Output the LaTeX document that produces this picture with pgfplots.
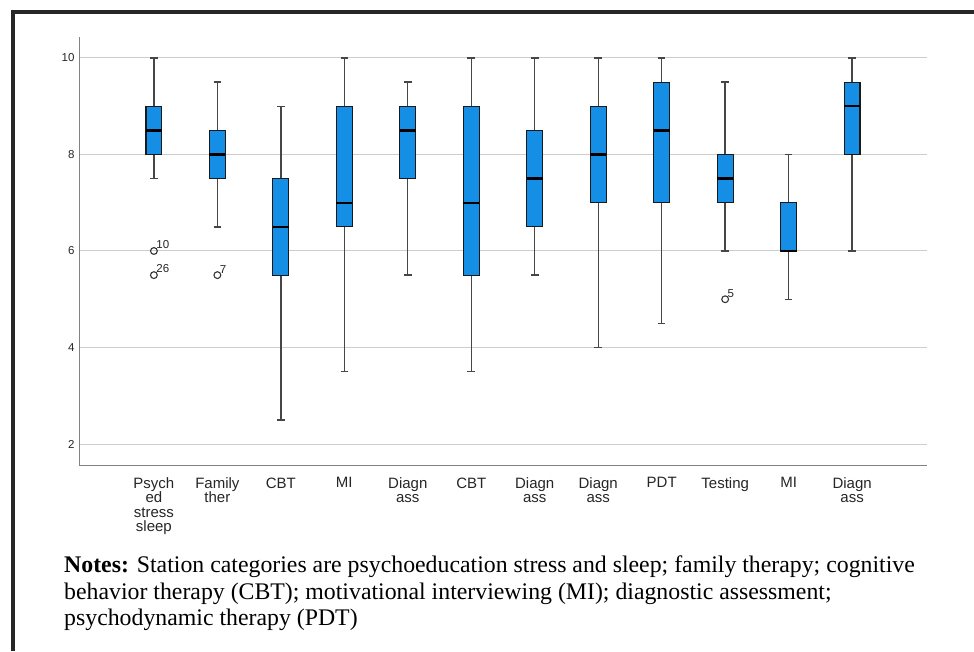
\documentclass[border=0pt]{standalone}
\usepackage{fontspec}
\setmainfont{Liberation Serif}
\setsansfont{Liberation Sans}
\usepackage{pgfplots}
\pgfplotsset{compat=1.18}
\usepgfplotslibrary{statistics}
\definecolor{spssblue}{RGB}{20,143,229}
\definecolor{whisk}{RGB}{70,70,70}
\definecolor{gridgray}{RGB}{205,205,205}
\definecolor{axgray}{RGB}{130,130,130}
\begin{document}
\begin{tikzpicture}[x=1pt,y=1pt]
\useasboundingbox (0,0) rectangle (974,651);
\fill[white] (0,0) rectangle (974,651);
\draw[black!85, line width=4pt] (13,0) -- (13,639) -- (974,639);
\begin{axis}[
  at={(79pt,186pt)}, anchor=south west,
  scale only axis, width=848pt, height=428pt,
  xmin=-0.18, xmax=13.18, ymin=1.565, ymax=10.435,
  axis x line*=bottom, axis y line*=left,
  axis line style={draw=axgray, line width=1pt, -},
  major tick length=0pt,
  ytick={2,4,6,8,10},
  ymajorgrids, major grid style={draw=gridgray, line width=1pt},
  xtick={1,2,3,4,5,6,7,8,9,10,11,12},
  xticklabels={{Psych\\ed\\stress\\sleep},{Family\\ther},CBT,MI,{Diagn\\ass},CBT,{Diagn\\ass},{Diagn\\ass},PDT,Testing,MI,{Diagn\\ass}},
  xticklabel style={font=\sffamily\fontsize{15}{14.5}\selectfont, align=center, anchor=north, yshift=-9pt, text=black!85},
  yticklabel style={font=\sffamily\fontsize{11.5}{12}\selectfont, text=black!85, xshift=-1pt},
  /pgf/number format/assume math mode=true,
  boxplot/draw direction=y,
  boxplot/box extend=0.25,
  boxplot/whisker extend=0.12,
  boxplot/every box/.style={draw=black!90, fill=spssblue, line width=1.1pt},
  boxplot/every whisker/.style={draw=whisk, line width=1.4pt},
  boxplot/every median/.style={draw=black, line width=2.4pt},
]
\addplot[boxplot prepared={draw position=1, lower whisker=7.5, lower quartile=8, median=8.5, upper quartile=9, upper whisker=10}] coordinates {};
\addplot[boxplot prepared={draw position=2, lower whisker=6.5, lower quartile=7.5, median=8, upper quartile=8.5, upper whisker=9.5}] coordinates {};
\addplot[boxplot prepared={draw position=3, lower whisker=2.5, lower quartile=5.5, median=6.5, upper quartile=7.5, upper whisker=9}] coordinates {};
\addplot[boxplot prepared={draw position=4, lower whisker=3.5, lower quartile=6.5, median=7, upper quartile=9, upper whisker=10}] coordinates {};
\addplot[boxplot prepared={draw position=5, lower whisker=5.5, lower quartile=7.5, median=8.5, upper quartile=9, upper whisker=9.5}] coordinates {};
\addplot[boxplot prepared={draw position=6, lower whisker=3.5, lower quartile=5.5, median=7, upper quartile=9, upper whisker=10}] coordinates {};
\addplot[boxplot prepared={draw position=7, lower whisker=5.5, lower quartile=6.5, median=7.5, upper quartile=8.5, upper whisker=10}] coordinates {};
\addplot[boxplot prepared={draw position=8, lower whisker=4, lower quartile=7, median=8, upper quartile=9, upper whisker=10}] coordinates {};
\addplot[boxplot prepared={draw position=9, lower whisker=4.5, lower quartile=7, median=8.5, upper quartile=9.5, upper whisker=10}] coordinates {};
\addplot[boxplot prepared={draw position=10, lower whisker=6, lower quartile=7, median=7.5, upper quartile=8, upper whisker=9.5}] coordinates {};
\addplot[boxplot prepared={draw position=11, lower whisker=5, lower quartile=6, median=6, upper quartile=7, upper whisker=8}] coordinates {};
\addplot[boxplot prepared={draw position=12, lower whisker=6, lower quartile=8, median=9, upper quartile=9.5, upper whisker=10}] coordinates {};
% outliers
\addplot[only marks, mark=o, mark size=3.4pt, mark options={draw=black!80, line width=1.1pt},
  point meta=explicit symbolic,
  nodes near coords,
  nodes near coords style={anchor=south west, font=\sffamily\fontsize{11.5}{12}\selectfont, text=black!85, inner sep=0pt, xshift=2pt, yshift=1.5pt}]
  coordinates {(1,6) [10] (1,5.5) [26] (2,5.5) [7] (10,5) [5]};
\end{axis}
\node[anchor=north west, inner sep=0pt, align=left, font=\fontsize{23.8}{26.5}\selectfont] at (64,95)
{\textbf{Notes:} Station categories are psychoeducation stress and sleep; family therapy; cognitive\\
behavior therapy (CBT); motivational interviewing (MI); diagnostic assessment;\\
psychodynamic therapy (PDT)};
\end{tikzpicture}
\end{document}
